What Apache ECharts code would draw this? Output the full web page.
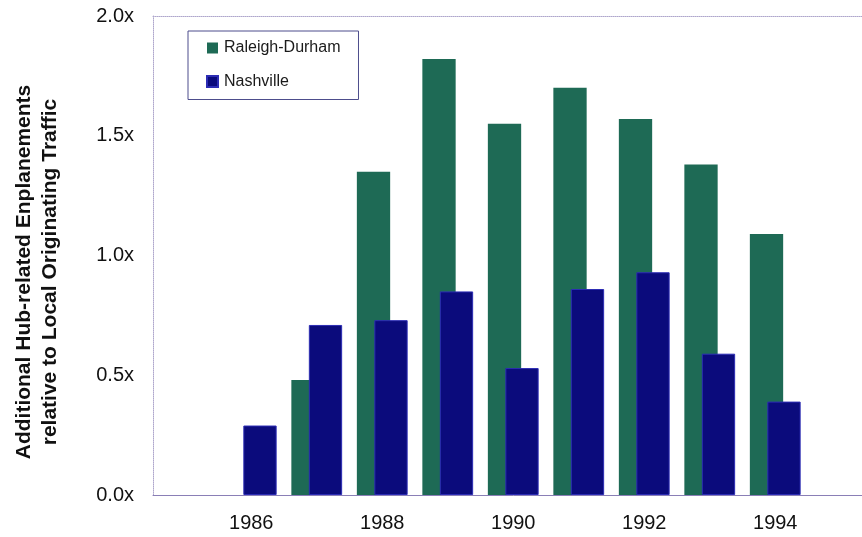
<!DOCTYPE html>
<html>
<head>
<meta charset="utf-8">
<title>Hub-related Enplanements</title>
<script src="https://cdn.jsdelivr.net/npm/echarts@6/dist/echarts.min.js"></script>
<style>
  html, body { margin: 0; padding: 0; background: #fff; overflow: hidden; }
  /* The plot runs past the right edge of the window, so the canvas is wider than the view */
  #chart { width: 890px; height: 537px; }
</style>
</head>
<body>
<div id="chart"></div>
<script>
// Years on the category axis (1985 and 1995 are empty padding slots)
const years = ['1985', '1986', '1987', '1988', '1989', '1990', '1991', '1992', '1993', '1994', '1995'];

// Additional hub-related enplanements relative to local originating traffic
const raleighDurham = [null, null, 0.48, 1.35, 1.82, 1.55, 1.70, 1.57, 1.38, 1.09, null];
const nashville     = [null, 0.29, 0.71, 0.73, 0.85, 0.53, 0.86, 0.93, 0.59, 0.39, null];

// Value-axis ticks
const yTicks = [0, 0.5, 1.0, 1.5, 2.0];

const seriesNames = ['Raleigh-Durham', 'Nashville'];
const titleLines = ['Additional Hub-related Enplanements', 'relative to Local Originating Traffic'];

const chart = echarts.init(document.getElementById('chart'), null, { renderer: 'canvas' });

const fontFamily = '"Liberation Sans", Arial, Helvetica, sans-serif';
const frameLine = { color: '#aea6cc', width: 1, type: 'dotted' };

chart.setOption({
  animation: false,
  backgroundColor: '#ffffff',
  textStyle: { fontFamily: fontFamily },
  grid: { left: 153, top: 16, width: 720.5, bottom: 42, containLabel: false },
  legend: {
    data: seriesNames,
    orient: 'vertical',
    left: 188,
    top: 31,
    padding: [9, 18, 10, 18],
    itemGap: 17.5,
    itemWidth: 11,
    itemHeight: 11,
    icon: 'rect',
    backgroundColor: '#ffffff',
    borderColor: '#4d4d8c',
    borderWidth: 1,
    textStyle: { fontSize: 16, color: '#1a1a1a', fontFamily: fontFamily, padding: [0, 0, 0, 1] }
  },
  xAxis: [
    {
      type: 'category',
      data: years,
      position: 'bottom',
      boundaryGap: true,
      axisLine: { show: true, lineStyle: { color: '#8a7fb6', width: 1 } },
      axisTick: { show: false },
      axisLabel: {
        interval: function (i, v) { return Number(v) % 2 === 0; },
        fontSize: 20,
        color: '#111111',
        margin: 18
      },
      splitLine: { show: false }
    },
    {
      type: 'category',
      data: years,
      position: 'top',
      axisLine: { show: true, lineStyle: frameLine },
      axisTick: { show: false },
      axisLabel: { show: false },
      splitLine: { show: false }
    }
  ],
  yAxis: {
    type: 'value',
    min: yTicks[0],
    max: yTicks[yTicks.length - 1],
    interval: 0.5,
    axisLine: { show: true, lineStyle: frameLine },
    axisTick: { show: false },
    splitLine: { show: false },
    axisLabel: {
      formatter: function (v) { return v.toFixed(1) + 'x'; },
      fontSize: 20,
      color: '#111111',
      margin: 19
    }
  },
  graphic: [
    {
      type: 'text',
      x: 37,
      y: 272,
      rotation: Math.PI / 2,
      style: {
        text: titleLines.join('\n'),
        fontFamily: fontFamily,
        fontSize: 21,
        fontWeight: 'bold',
        lineHeight: 26,
        fill: '#111111',
        align: 'center',
        verticalAlign: 'middle'
      }
    }
  ],
  series: [
    {
      name: seriesNames[0],
      type: 'bar',
      data: raleighDurham,
      barWidth: 33.3,
      barGap: '-47.5%',
      itemStyle: { color: '#1e6a55' }
    },
    {
      name: seriesNames[1],
      type: 'bar',
      data: nashville,
      barWidth: 33.3,
      barGap: '-47.5%',
      itemStyle: { color: '#0b0b7c', borderColor: '#2c2cb4', borderWidth: 1 }
    }
  ]
});
</script>
</body>
</html>
